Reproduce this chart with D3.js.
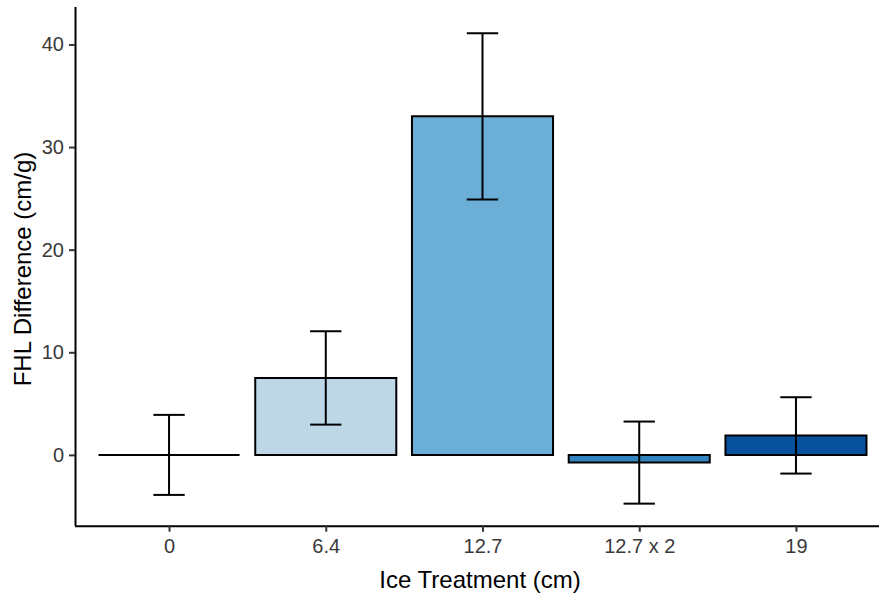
<!DOCTYPE html>
<html>
<head>
<meta charset="utf-8">
<script src="https://cdn.jsdelivr.net/npm/d3@7"></script>
<style>
  html, body { margin: 0; padding: 0; background: #fff; }
  svg { display: block; }
  text { font-family: "Liberation Sans", Arial, sans-serif; }
</style>
</head>
<body>
<svg id="chart" width="879" height="595"></svg>
<script>
// Ice treatment groups and the mean FHL difference with its standard error
const treatments = ["0", "6.4", "12.7", "12.7 x 2", "19"];
const meanDiff   = [0, 7.5, 33.0, -0.75, 1.9];
const stdErr     = [3.9, 4.55, 8.1, 4.0, 3.72];
const fills      = ["#eff3ff", "#bdd7e7", "#6baed6", "#3182bd", "#08519c"];
const yTicks     = [0, 10, 20, 30, 40];
const yDomain    = [-6.9, 43.65];

const rows = treatments.map((t, i) => ({ t, mean: meanDiff[i], se: stdErr[i], fill: fills[i] }));

const svg = d3.select("#chart");
const panel = { left: 75, right: 890, top: 7, bottom: 525.7 };

// discrete x: 0.6 step of padding on each side of the outer categories
const step = (panel.right - panel.left) / (treatments.length + 0.2);
const x = d3.scalePoint()
  .domain(treatments)
  .range([panel.left + 0.6 * step, panel.right - 0.6 * step]);
const barW = 0.9 * step;
const capW = 0.2 * step;

const y = d3.scaleLinear().domain(yDomain).range([panel.bottom, panel.top]);

// bars as closed paths so a zero-height bar still shows its outline
svg.append("g").selectAll("path")
  .data(rows)
  .join("path")
  .attr("d", d => {
    const x0 = x(d.t) - barW / 2, x1 = x(d.t) + barW / 2;
    const y0 = y(0), y1 = y(d.mean);
    return `M${x0},${y0}H${x1}V${y1}H${x0}Z`;
  })
  .attr("fill", d => d.fill)
  .attr("stroke", "#000")
  .attr("stroke-width", 2);

// error bars
const eb = svg.append("g").attr("stroke", "#000").attr("stroke-width", 2).attr("fill", "none");
rows.forEach(d => {
  const cx = x(d.t), lo = y(d.mean - d.se), hi = y(d.mean + d.se);
  eb.append("line").attr("x1", cx).attr("x2", cx).attr("y1", lo).attr("y2", hi);
  eb.append("line").attr("x1", cx - capW / 2).attr("x2", cx + capW / 2).attr("y1", lo).attr("y2", lo);
  eb.append("line").attr("x1", cx - capW / 2).attr("x2", cx + capW / 2).attr("y1", hi).attr("y2", hi);
});

// axes
const xAxis = svg.append("g")
  .attr("transform", `translate(0,${panel.bottom})`)
  .call(d3.axisBottom(x).tickSize(6).tickPadding(7));
const yAxis = svg.append("g")
  .attr("transform", `translate(${panel.left},0)`)
  .call(d3.axisLeft(y).tickValues(yTicks).tickSize(6).tickPadding(5));

[xAxis, yAxis].forEach(a => {
  a.select(".domain").attr("stroke", "#000").attr("stroke-width", 2);
  a.selectAll(".tick line").attr("stroke", "#333").attr("stroke-width", 2);
  a.selectAll(".tick text")
    .attr("fill", "#3a3a3a")
    .style("font-size", "20px")
    .style("font-family", "'Liberation Sans', Arial, sans-serif");
});
// x axis line is drawn without the outer end ticks
xAxis.select(".domain").attr("d", `M${panel.left},0.5H${panel.right}`);
yAxis.select(".domain").attr("d", `M0.5,${panel.top}V${panel.bottom}`);

// axis titles
svg.append("text")
  .attr("x", 480)
  .attr("y", 588)
  .attr("text-anchor", "middle")
  .style("font-size", "24px")
  .attr("fill", "#000")
  .text("Ice Treatment (cm)");

svg.append("text")
  .attr("transform", `translate(31,269) rotate(-90)`)
  .attr("text-anchor", "middle")
  .style("font-size", "24px")
  .attr("fill", "#000")
  .text("FHL Difference (cm/g)");
</script>
</body>
</html>
